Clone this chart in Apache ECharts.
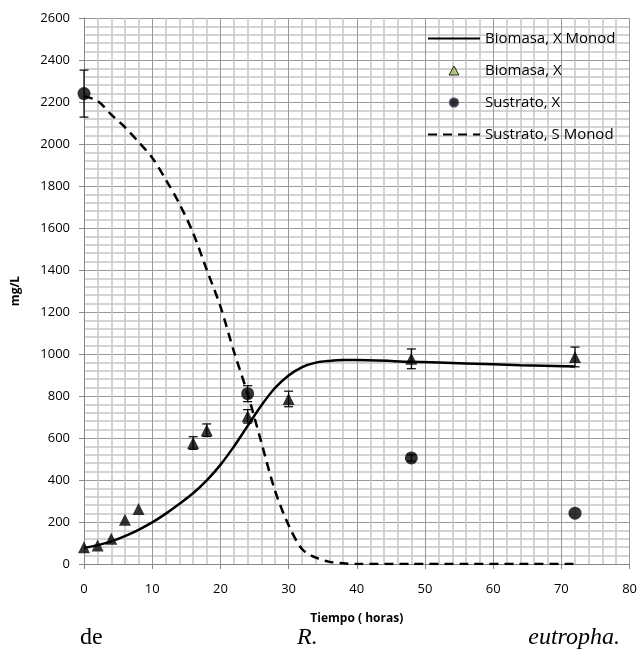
<!DOCTYPE html>
<html>
<head>
<meta charset="utf-8">
<script src="https://cdn.jsdelivr.net/npm/echarts@6/dist/echarts.min.js"></script>
<style>
html,body{margin:0;padding:0;background:#fff;}
#chart{width:640px;height:666px;}
</style>
</head>
<body>
<div id="chart"></div>
<script>
// ---- Data ----
var xTicks = [0, 10, 20, 30, 40, 50, 60, 70, 80];
var yTicks = [0, 200, 400, 600, 800, 1000, 1200, 1400, 1600, 1800, 2000, 2200, 2400, 2600];

var biomasaT   = [0, 2, 4, 6, 8, 16, 18, 24, 30, 48, 72];
var biomasaX   = [80, 88, 120, 211, 262, 576, 637, 703, 786, 977, 986];
var biomasaErr = [0, 0, 0, 0, 0, 30, 30, 32, 37, 47, 47];

var sustratoT   = [0, 24, 48, 72];
var sustratoX   = [2240, 811, 505, 242];
var sustratoErr = [112, 38, 15, 0];

var biomasaMonodT = [0, 2, 4, 6, 8, 10, 12, 14, 16, 18, 20, 22, 24, 26, 28, 30, 32, 34, 36, 38, 40, 48, 56, 64, 72];
var biomasaMonodV = [76, 90, 108, 133, 163, 198, 240, 287, 337, 398, 472, 560, 658, 755, 838, 898, 938, 959, 967, 971, 971, 963, 955, 947, 940];

var sustratoMonodT = [0, 2, 4, 6, 8, 10, 12, 14, 16, 18, 20, 22, 24, 26, 28, 30, 32, 34, 36, 38, 40, 48, 56, 64, 72];
var sustratoMonodV = [2228, 2205, 2140, 2080, 2010, 1935, 1830, 1715, 1576, 1401, 1227, 1010, 810, 580, 350, 185, 70, 30, 10, 3, 0, 0, 0, 0, 0];

var seriesNames = ['Biomasa, X Monod', 'Biomasa, X', 'Sustrato, X', 'Sustrato, S Monod'];
var captionWords = ['de', 'R.', 'eutropha.'];

function pairs(a, b) { return a.map(function (v, i) { return [v, b[i]]; }); }
function errPairs(t, v, e) {
  var out = [];
  t.forEach(function (x, i) { if (e[i] > 0) out.push([x, v[i] - e[i], v[i] + e[i]]); });
  return out;
}

function errRender(params, api) {
  var x = api.value(0), lo = api.value(1), hi = api.value(2);
  var pLo = api.coord([x, lo]), pHi = api.coord([x, hi]);
  var w = 4.5;
  var st = { stroke: '#000', lineWidth: 1.2 };
  return {
    type: 'group',
    children: [
      { type: 'line', shape: { x1: pLo[0], y1: pLo[1], x2: pHi[0], y2: pHi[1] }, style: st },
      { type: 'line', shape: { x1: pLo[0] - w, y1: pLo[1], x2: pLo[0] + w, y2: pLo[1] }, style: st },
      { type: 'line', shape: { x1: pHi[0] - w, y1: pHi[1], x2: pHi[0] + w, y2: pHi[1] }, style: st }
    ]
  };
}

var font = "'Open Sans', 'Liberation Sans', sans-serif";
var serif = "'Liberation Serif', serif";
var hidden = { color: 'rgba(0,0,0,0)', borderColor: 'rgba(0,0,0,0)', borderWidth: 0 };
var chart = echarts.init(document.getElementById('chart'), null, { renderer: 'canvas' });

chart.setOption({
  animation: false,
  backgroundColor: '#fff',
  grid: { left: 84, right: 10, top: 18, bottom: 102, containLabel: false },
  xAxis: {
    type: 'value', min: xTicks[0], max: xTicks[xTicks.length - 1], interval: 10,
    name: 'Tiempo ( horas)', nameLocation: 'middle', nameGap: 49,
    nameTextStyle: { fontFamily: font, fontWeight: 'bold', fontSize: 12, color: '#000' },
    axisLine: { lineStyle: { color: '#868686', width: 1 } },
    axisTick: { show: true, length: 5, lineStyle: { color: '#868686' } },
    axisLabel: { fontFamily: font, fontSize: 13, color: '#000', margin: 19 },
    splitLine: { show: true, lineStyle: { color: '#9a9a9a', width: 1 } },
    minorTick: { show: false, splitNumber: 5 },
    minorSplitLine: { show: true, lineStyle: { color: '#c6c6c6', width: 1.5 } }
  },
  yAxis: {
    type: 'value', min: yTicks[0], max: yTicks[yTicks.length - 1], interval: 200,
    name: 'mg/L', nameLocation: 'middle', nameGap: 62, nameRotate: 90,
    nameTextStyle: { fontFamily: font, fontWeight: 'bold', fontSize: 12, color: '#000' },
    axisLine: { show: true, lineStyle: { color: '#868686', width: 1 } },
    axisTick: { show: true, length: 5, lineStyle: { color: '#868686' } },
    axisLabel: { fontFamily: font, fontSize: 13, color: '#000', margin: 14,
      formatter: function (v) { return String(v); } },
    splitLine: { show: true, lineStyle: { color: '#9a9a9a', width: 1 } },
    minorTick: { show: false, splitNumber: 5 },
    minorSplitLine: { show: true, lineStyle: { color: '#c6c6c6', width: 1.5 } }
  },
  legend: {
    orient: 'vertical', left: 422, top: 26, itemWidth: 52, itemHeight: 9, itemGap: 17,
    textStyle: { fontFamily: font, fontSize: 15, color: '#000' },
    data: [
      { name: seriesNames[0], itemStyle: hidden },
      { name: seriesNames[1], icon: 'path://M5,0L10,9L0,9Z',
        itemStyle: { color: '#9bbb59', borderColor: '#000', borderWidth: 1 } },
      { name: seriesNames[2], icon: 'circle',
        itemStyle: { color: '#000', borderColor: '#604a7b', borderWidth: 1.5 } },
      { name: seriesNames[3], itemStyle: hidden }
    ]
  },
  series: [
    {
      name: seriesNames[0], type: 'line', data: pairs(biomasaMonodT, biomasaMonodV),
      smooth: 0.3, symbol: 'none', z: 3,
      lineStyle: { color: '#000', width: 2.5 }, itemStyle: { color: '#000' }
    },
    {
      name: seriesNames[3], type: 'line', data: pairs(sustratoMonodT, sustratoMonodV),
      smooth: 0.3, symbol: 'none', z: 3,
      lineStyle: { color: '#000', width: 2.5, type: [9, 6] }, itemStyle: { color: '#000' }
    },
    {
      type: 'custom', renderItem: errRender, data: errPairs(biomasaT, biomasaX, biomasaErr),
      encode: { x: 0, y: [1, 2] }, z: 4, silent: true
    },
    {
      type: 'custom', renderItem: errRender, data: errPairs(sustratoT, sustratoX, sustratoErr),
      encode: { x: 0, y: [1, 2] }, z: 4, silent: true
    },
    {
      name: seriesNames[1], type: 'scatter', data: pairs(biomasaT, biomasaX),
      symbol: 'triangle', symbolSize: 12, z: 5, itemStyle: { color: '#000' }
    },
    {
      name: seriesNames[2], type: 'scatter', data: pairs(sustratoT, sustratoX),
      symbol: 'circle', symbolSize: 13, z: 5, itemStyle: { color: '#000' }
    }
  ],
  graphic: [
    { type: 'text', left: 80, top: 626, style: { text: captionWords[0], fontFamily: serif, fontSize: 24, fill: '#000' } },
    { type: 'text', left: 297, top: 626, style: { text: captionWords[1], fontFamily: serif, fontStyle: 'italic', fontSize: 24, fill: '#000' } },
    { type: 'text', right: 20, top: 626, style: { text: captionWords[2], fontFamily: serif, fontStyle: 'italic', fontSize: 24, fill: '#000' } }
  ]
});
</script>
</body>
</html>
